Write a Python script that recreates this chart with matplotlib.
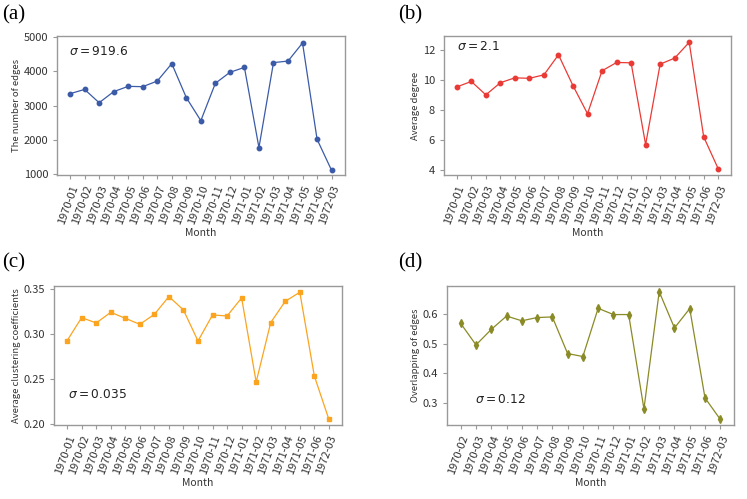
import matplotlib
matplotlib.use("Agg")
import matplotlib.pyplot as plt

months_a = ["1970-01", "1970-02", "1970-03", "1970-04", "1970-05", "1970-06",
            "1970-07", "1970-08", "1970-09", "1970-10", "1970-11", "1970-12",
            "1971-01", "1971-02", "1971-03", "1971-04", "1971-05", "1971-06",
            "1972-03"]
months_d = months_a[1:]

edges = [3350, 3475, 3085, 3410, 3565, 3555, 3720, 4230, 3235, 2560,
         3655, 3975, 4120, 1770, 4260, 4305, 4835, 2015, 1105]
degree = [9.52, 9.88, 8.99, 9.80, 10.12, 10.09, 10.32, 11.65, 9.60, 7.74,
          10.59, 11.14, 11.12, 5.69, 11.03, 11.43, 12.48, 6.20, 4.08]
clustering = [0.293, 0.3185, 0.3126, 0.3244, 0.3178, 0.3111, 0.3222, 0.3419,
              0.327, 0.2926, 0.3215, 0.3204, 0.3404, 0.247, 0.313, 0.3367,
              0.3467, 0.2537, 0.2056]
overlap = [0.568, 0.496, 0.548, 0.593, 0.577, 0.588, 0.590, 0.467, 0.457,
           0.619, 0.598, 0.598, 0.281, 0.675, 0.553, 0.618, 0.318, 0.246]

panels = [
    # label, months, values, colour, marker, ylabel, sigma text, text pos, ylim, yticks, rect
    ("(a)", months_a, edges, "#3b5ba8", "o", "The number of edges",
     r"$\sigma = 919.6$", (0.041, 0.892), (960, 5040), [1000, 2000, 3000, 4000, 5000],
     [0.0767, 0.6487, 0.3847, 0.2792]),
    ("(b)", months_a, degree, "#ea3a35", "o", "Average degree",
     r"$\sigma = 2.1$", (0.045, 0.924), (3.65, 12.9), [4, 6, 8, 10, 12],
     [0.5944, 0.6487, 0.3846, 0.2792]),
    ("(c)", months_a, clustering, "#fba41f", "s", "Average clustering coefficients",
     r"$\sigma = 0.035$", (0.048, 0.224), (0.199, 0.354), [0.20, 0.25, 0.30, 0.35],
     [0.0727, 0.1477, 0.3851, 0.2798]),
    ("(d)", months_d, overlap, "#8a8a26", "d", "Overlapping of edges",
     r"$\sigma = 0.12$", (0.097, 0.188), (0.226, 0.695), [0.3, 0.4, 0.5, 0.6],
     [0.5988, 0.1477, 0.3838, 0.2798]),
]

plt.rcParams["font.family"] = ["Noto Sans CJK JP", "DejaVu Sans"]

fig = plt.figure(figsize=(7.47, 4.99), dpi=100)

for lab, months, vals, col, mk, ylab, sig, tpos, ylim, yticks, rect in panels:
    ax = fig.add_axes(rect)
    x = list(range(len(months)))
    ms = 3.2 if mk != "d" else 3.6
    ax.plot(x, vals, color=col, marker=mk, markersize=ms, linewidth=0.9)
    ax.set_xlim(-0.88, len(months) - 1 + 0.9)
    ax.set_ylim(*ylim)
    ax.set_xticks(x)
    ax.set_xticklabels(months, rotation=70, ha="right", rotation_mode="anchor",
                       fontsize=8)
    ax.set_yticks(yticks)
    if lab == "(c)":
        ax.set_yticklabels(["%.2f" % v for v in yticks])
    ax.tick_params(axis="both", color="#999999", length=3, width=0.8,
                   labelcolor="#333333")
    ax.tick_params(axis="y", labelsize=8)
    for s in ax.spines.values():
        s.set_color("#999999")
        s.set_linewidth(1.0)
    ax.set_ylabel(ylab, fontsize=6.8, color="#333333", labelpad=2)
    ax.set_xlabel("Month", fontsize=7.5, color="#333333", labelpad=1)
    ax.text(tpos[0], tpos[1], sig, transform=ax.transAxes, fontsize=8.8,
            va="center", ha="left", color="#222222")

for txt, px, py in [("(a)", 0.003, 0.99), ("(b)", 0.533, 0.99),
                    ("(c)", 0.003, 0.492), ("(d)", 0.533, 0.492)]:
    fig.text(px, py, txt, family="Liberation Serif", fontsize=15, va="top")

fig.savefig("out.png", dpi=100)
